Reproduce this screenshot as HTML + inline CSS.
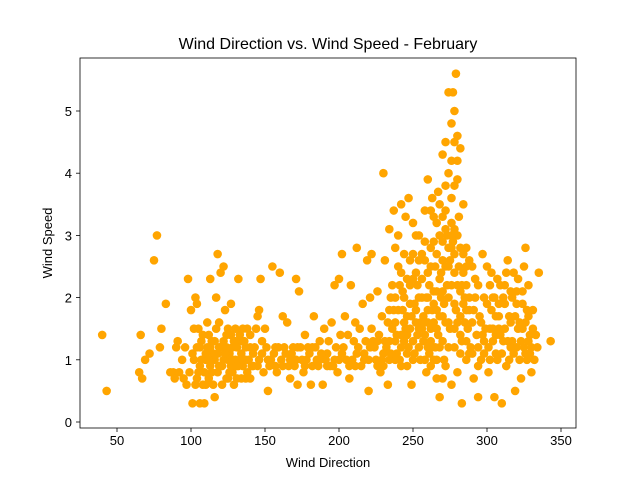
<!DOCTYPE html>
<html><head><meta charset="utf-8"><style>
body{margin:0;background:#fff;}
svg{display:block;font-family:"Liberation Sans","DejaVu Sans",sans-serif;}
</style></head><body>
<svg id="chart" width="640" height="480">
<rect width="640" height="480" fill="#fff"/>
<text x="328" y="49" text-anchor="middle" font-size="16" fill="#000">Wind Direction vs. Wind Speed - February</text>
<text x="328" y="467" text-anchor="middle" font-size="13" fill="#000">Wind Direction</text>
<text transform="translate(52,243) rotate(-90)" text-anchor="middle" font-size="13" fill="#000">Wind Speed</text>
<g id="points"></g>
<g id="axes"></g>
</svg>
<script>
const xTicks=[50,100,150,200,250,300,350];
const yTicks=[0,1,2,3,4,5];
const observations=[
[40,1.4],[43,0.5],[65,0.8],[66,1.4],[67,0.7],[69,1.0],[72,1.1],[75,2.6],[77,3.0],[79,1.2],[80,1.5],[83,1.9],[86,0.8],[88,0.8],[89,0.7],[90,1.2],[91,1.3],[92,0.8],[94,1.0],[95,0.7],[96,1.2],[97,0.6],[98,2.3],[99,0.8],[100,1.8],[101,0.3],[102,1.5],[103,2.0],[104,1.9],[105,0.8],[106,0.3],[107,1.3],[108,0.6],[109,0.3],[110,1.0],[111,1.6],[112,1.4],[113,2.3],[114,0.8],[115,1.1],[116,0.4],[117,2.0],[118,2.7],[119,1.2],[120,2.4],[121,0.9],[122,2.5],[123,1.8],[124,0.7],[125,1.5],[126,1.1],[127,1.9],[128,0.8],[129,1.3],[130,1.0],[131,0.7],[132,2.3],[133,1.4],[134,1.1],[135,0.9],[137,0.7],[138,1.5],[140,1.2],[142,0.9],[144,1.5],[145,1.7],[146,1.8],[147,2.3],[148,1.1],[150,1.5],[152,0.5],[154,1.0],[155,2.5],[157,0.9],[159,1.2],[160,2.4],[162,1.7],[164,1.1],[165,1.6],[167,0.7],[169,1.2],[170,0.9],[171,2.3],[172,0.6],[173,2.1],[175,1.0],[177,1.4],[179,1.2],[181,0.6],[183,1.7],[185,1.0],[187,1.3],[189,0.6],[190,1.5],[192,1.1],[194,0.9],[195,1.6],[197,2.2],[199,0.8],[200,2.3],[201,1.4],[202,2.7],[204,1.7],[205,1.0],[207,0.7],[208,2.2],[210,1.3],[211,0.9],[212,2.8],[214,1.5],[216,1.9],[217,1.1],[219,2.6],[220,0.5],[221,2.0],[222,2.7],[223,1.3],[225,1.0],[226,2.1],[228,0.8],[229,1.7],[230,4.0],[231,2.6],[232,1.2],[233,0.6],[234,3.1],[235,2.0],[236,1.5],[237,3.4],[238,2.8],[239,1.1],[240,3.0],[241,2.2],[242,3.5],[243,1.8],[244,1.3],[245,3.3],[246,0.9],[247,3.6],[248,2.6],[249,0.6],[250,3.2],[251,1.9],[252,2.4],[253,1.4],[254,3.0],[255,1.0],[256,2.7],[257,1.7],[258,3.4],[259,0.8],[260,3.9],[261,2.2],[262,1.5],[263,3.6],[264,2.9],[265,1.2],[266,0.7],[267,3.7],[268,0.4],[269,2.4],[270,4.3],[271,1.9],[272,4.5],[273,3.0],[274,5.3],[275,2.6],[276,4.8],[277,5.3],[278,3.8],[279,5.6],[280,4.6],[281,3.3],[282,4.4],[283,2.2],[284,3.5],[285,1.6],[286,2.8],[288,1.1],[290,2.5],[291,0.7],[292,2.0],[294,0.4],[295,1.7],[297,2.7],[298,1.1],[300,2.5],[301,0.8],[302,2.2],[304,1.3],[305,0.4],[307,2.3],[308,1.5],[310,0.3],[311,2.0],[313,0.9],[314,2.6],[315,1.7],[316,1.2],[318,2.4],[319,0.5],[320,2.1],[321,1.5],[323,0.7],[324,1.9],[325,1.2],[326,2.8],[327,1.0],[328,2.2],[329,1.4],[330,0.8],[331,1.8],[333,1.4],[335,2.4],[343,1.3],
[102,1.0],[104,1.2],[106,0.9],[108,1.4],[110,1.1],[112,0.7],[114,1.3],[116,1.0],[118,0.8],[120,1.2],[122,1.0],[124,1.4],[126,0.8],[128,1.2],[130,1.5],[132,0.9],[134,1.3],[136,1.0],[138,0.8],[140,1.4],[105,1.5],[109,0.8],[113,1.2],[117,1.5],[121,0.6],[125,1.0],[129,0.6],[133,1.0],[137,1.2],[141,0.9],[119,1.6],[123,1.1],[127,0.9],[115,0.6],[111,1.2],[103,0.6],[131,1.2],[135,1.5],[139,1.0],[143,1.2],[146,1.0],[149,0.8],[151,1.2],[153,0.9],[156,1.1],[158,0.8],[161,1.0],[163,1.2],[166,0.9],[168,1.1],[171,1.0],[174,1.2],[176,0.8],[178,1.0],[180,1.1],[182,0.9],[184,1.2],[186,0.9],[188,1.1],[191,1.0],[193,1.3],[196,0.9],[198,1.2],[200,1.0],[203,1.2],[206,1.4],[209,1.0],[211,1.6],[213,1.2],[215,0.9],[218,1.3],[220,1.0],[222,1.5],[224,1.2],[227,1.4],[229,1.0],[231,1.3],[233,1.6],[235,1.1],[237,1.8],[239,1.4],[241,1.0],[243,2.1],[245,1.5],[247,1.2],[249,1.7],[251,1.1],[253,2.2],[255,1.6],[257,1.3],[259,2.0],[261,1.1],[263,1.8],[265,2.5],[267,1.4],[269,2.0],[271,1.0],[273,2.2],[275,1.5],[277,2.9],[279,1.8],[281,2.5],[283,1.3],[285,2.0],[287,1.5],[289,1.2],[291,1.8],[293,1.4],[296,1.0],[299,1.5],[303,1.8],[306,1.1],[309,1.4],[312,1.9],[317,1.3],[322,1.0],[326,1.6],[332,1.0],
[256,2.3],[258,2.6],[260,1.6],[262,2.8],[264,1.0],[266,3.2],[268,1.7],[270,2.6],[272,3.4],[274,2.0],[276,3.2],[278,2.4],[280,3.9],[282,2.1],[284,2.7],[286,2.2],[288,2.6],[274,4.0],[276,4.2],[278,4.5],[280,4.2],[278,5.0],[276,3.6],[272,3.8],[270,3.3],[268,3.0],[264,3.3],[262,3.4],[266,2.1],[270,1.3],[274,1.2],[278,1.5],[282,1.7],[286,1.0],[272,0.9],[280,0.8],[276,0.6],[283,0.3],[260,1.2],[254,2.0],[250,2.7],[248,1.9],[246,2.3],[244,2.7],[242,1.4],[240,2.5],[238,1.6],[236,2.2],[234,1.8],[252,3.0],[258,1.0],[262,0.9],
[300,1.9],[302,1.5],[305,2.0],[307,1.0],[309,2.2],[311,1.3],[313,2.4],[315,1.0],[317,2.0],[319,1.7],[321,2.3],[323,1.3],[325,2.5],[327,1.8],[329,1.1],[331,1.5],[334,1.2],[294,2.2],[296,1.6],[298,2.0],[303,2.4],[306,1.7],
[101,1.1],[104,0.7],[107,1.0],[110,0.6],[113,0.9],[116,1.3],[119,0.9],[122,1.3],[125,0.7],[128,1.0],[131,0.9],[134,0.7],[137,1.0],[140,0.7],[124,1.2],[118,1.1],[112,1.0],[106,1.2],[127,1.4],[130,1.3],[136,1.3],[142,1.1],[145,0.9],[148,1.3],[152,1.0],[157,1.2],[162,0.9],[167,1.0],[172,1.2],[177,0.9],[182,1.2],[187,1.0],[192,0.9],[197,1.0],[202,1.1],[207,0.9],[212,1.1],[217,1.0],[221,1.2],[226,1.3],[230,1.1],[234,1.3],[238,1.0],[242,1.2],[246,1.4],[250,1.3],[254,1.5],[258,1.6],[262,1.3],[266,1.5],[270,1.7],[274,1.6],[278,1.9],[282,1.1],[286,1.8],[290,1.6],[294,1.2],[297,1.4],[301,1.2],[304,1.5],[308,1.7],[312,1.5],[316,1.6],[320,1.2],[324,1.5],[328,1.3],
[240,1.8],[244,2.0],[248,2.2],[252,1.8],[256,2.0],[260,2.4],[264,2.1],[268,2.3],[272,2.5],[276,2.8],[280,2.2],[284,2.4],[288,2.0],[292,2.3],[254,2.6],[258,2.9],[262,2.5],[266,2.7],[270,2.9],[274,2.5],[278,3.1],[282,2.8],[286,2.5],[250,2.3],[246,1.7],[242,2.4],[238,2.0],[266,1.8],[270,2.1],[274,2.8],[278,2.7],[280,3.0],[276,3.0],[272,3.1],[268,3.5],[264,1.9],[260,2.0],[256,1.5],[252,1.6],[248,1.5],[244,1.6],[276,2.2],[280,1.6],[284,1.9],[288,1.8],[272,1.6],[268,1.2],[264,1.6],[260,1.8],[270,0.7],[266,1.0],[262,1.2],[258,1.4],[254,1.2],[250,1.0],[246,1.1],[242,0.9],[238,1.3],[234,1.0],[230,0.9],[226,0.9],[278,1.2],[282,1.4],[286,1.3],[290,1.1],[294,0.9],[298,1.3],[302,1.0],[306,1.4],[310,1.1],[314,1.3],[318,1.1],[322,1.6],[326,1.1],[330,1.2],[304,2.0],[308,1.9],[312,2.2],[316,2.1],[320,1.9],[324,2.1],[328,1.7]
];
const NS='http://www.w3.org/2000/svg';
const L=80,R=576,T=58,B=428;
function xScale(v){return 117+(v-50)*(444/300);}
function yScale(v){return 422-v*62.2;}
const pts=document.getElementById('points');
observations.forEach(o=>{
  const c=document.createElementNS(NS,'circle');
  c.setAttribute('cx',xScale(o[0]));c.setAttribute('cy',yScale(o[1]));
  c.setAttribute('r',4.3);c.setAttribute('fill','#FFA500');
  
  
  pts.appendChild(c);
});
const ax=document.getElementById('axes');
function el(tag,attrs,text){const e=document.createElementNS(NS,tag);for(const k in attrs)e.setAttribute(k,attrs[k]);if(text!==undefined)e.textContent=text;ax.appendChild(e);return e;}
const frame=el('rect',{x:L,y:T,width:R-L,height:B-T,fill:'none',stroke:'#000','stroke-width':0.8});


xTicks.forEach(t=>{
  const x=xScale(t);
  const tk=el('line',{x1:x,x2:x,y1:B,y2:B+4,stroke:'#000','stroke-width':0.8});
  
  
  const lb=el('text',{x:x,y:B+17,'text-anchor':'middle','font-size':13},String(t));
  
  
});
yTicks.forEach(t=>{
  const y=yScale(t);
  const tk=el('line',{x1:L-4,x2:L,y1:y,y2:y,stroke:'#000','stroke-width':0.8});
  
  
  const lb=el('text',{x:L-8,y:y+5,'text-anchor':'end','font-size':13},String(t));
  
  
});
</script>
</body></html>
